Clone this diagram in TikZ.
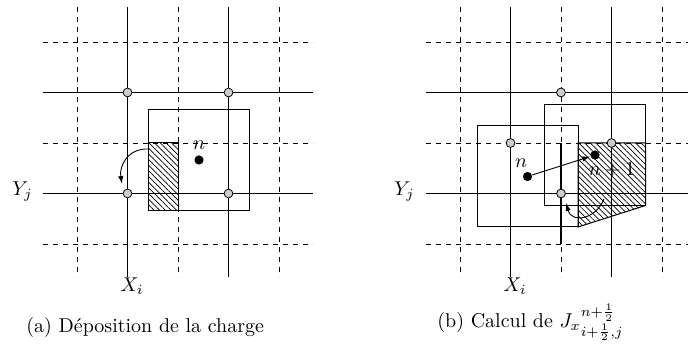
\documentclass[tikz,border=0pt]{standalone}
\usetikzlibrary{patterns.meta,arrows.meta}
\begin{document}
\begin{tikzpicture}[x=0.5pt,y=-0.5pt,
  solidl/.style={line width=0.5pt},
  dashl/.style={line width=0.45pt, dash pattern=on 2.4pt off 2.6pt},
  thickseg/.style={line width=1.0pt},
  boxl/.style={draw, line width=0.5pt},
  gp/.style={circle, draw, line width=0.4pt, fill=black!20, inner sep=0pt, minimum size=4.4pt},
  bp/.style={circle, fill=black, inner sep=0pt, minimum size=4.6pt},
  hatch/.style={draw, line width=0.5pt, pattern={Lines[angle=-45,distance=2pt,line width=0.35pt]}},
  arr/.style={line width=0.45pt, -{Latex[length=4pt,width=2.6pt]}},
  lbl/.style={inner sep=0pt}
]
\useasboundingbox (0,0) rectangle (688,356);
\clip (0,0) rectangle (688,356);

% grids
\foreach \cx in {178,561} {
  \foreach \d in {-101,0,101} \draw[dashl] (\cx+\d,7) -- (\cx+\d,277);
  \foreach \d in {-50.5,50.5} \draw[solidl] (\cx+\d,7) -- (\cx+\d,277);
  \foreach \yy in {42,143,244} \draw[dashl] (\cx-135,\yy) -- (\cx+135,\yy);
  \foreach \yy in {92.5,193.5} \draw[solidl] (\cx-135,\yy) -- (\cx+135,\yy);
}

% ---------- panel (a)
\draw[hatch] (148.5,143) rectangle (178,210.5);
\draw[boxl] (148.5,109.5) rectangle (249.5,210.5);
\node[bp] (pa) at (199,160) {};
\node[lbl] (na) at (199,145) {$n$};
\node[gp] (a1) at (127.5,92.5) {};
\node[gp] (a2) at (228.5,92.5) {};
\node[gp] (a3) at (127.5,193.5) {};
\node[gp] (a4) at (228.5,193.5) {};
\coordinate (la0) at (148.5,149);
\coordinate (la1) at (122,184);
\draw[arr] (la0) .. controls (128,148) and (119,166) .. (la1);
\node[lbl, anchor=base west] (ya) at (12,196) {$Y_j$};
\node[lbl, anchor=base west] (xa) at (120,292) {$X_i$};

% ---------- panel (b)
\draw[thickseg] (561,143) -- (561,244);
\node[lbl] (nb1) at (612,170) {$n+1$};
\draw[hatch] (578,143) -- (645.5,143) -- (645.5,205.5) -- (578,227) -- cycle;
\draw[boxl] (477,126) rectangle (578,227);
\draw[boxl] (544.5,104.5) rectangle (645.5,205.5);
\node[gp] (b1) at (561,92.5) {};
\node[gp] (b2) at (510.5,143) {};
\node[gp] (b3) at (611.5,143) {};
\node[gp] (b4) at (561,193.5) {};
\node[bp] (pn) at (527.5,176.5) {};
\node[bp] (pn1) at (595,155) {};
\node[lbl] (nb) at (521,163) {$n$};
\draw[arr] (pn) -- (pn1);
\coordinate (ra0) at (604,199);
\coordinate (ra1) at (566,203);
\draw[arr] (ra0) .. controls (596,219) and (572,224) .. (ra1);
\node[lbl, anchor=base west] (yb) at (394,196) {$Y_j$};
\node[lbl, anchor=base west] (xb) at (503,292) {$X_i$};

% captions
\node[lbl, anchor=base west] (capa) at (26,333) {(a) Déposition de la charge};
\node[lbl, anchor=base west] (capb) at (437,328) {(b) Calcul de ${J_x}^{n+\frac{1}{2}}_{i+\frac{1}{2},j}$};
\end{tikzpicture}
\end{document}
